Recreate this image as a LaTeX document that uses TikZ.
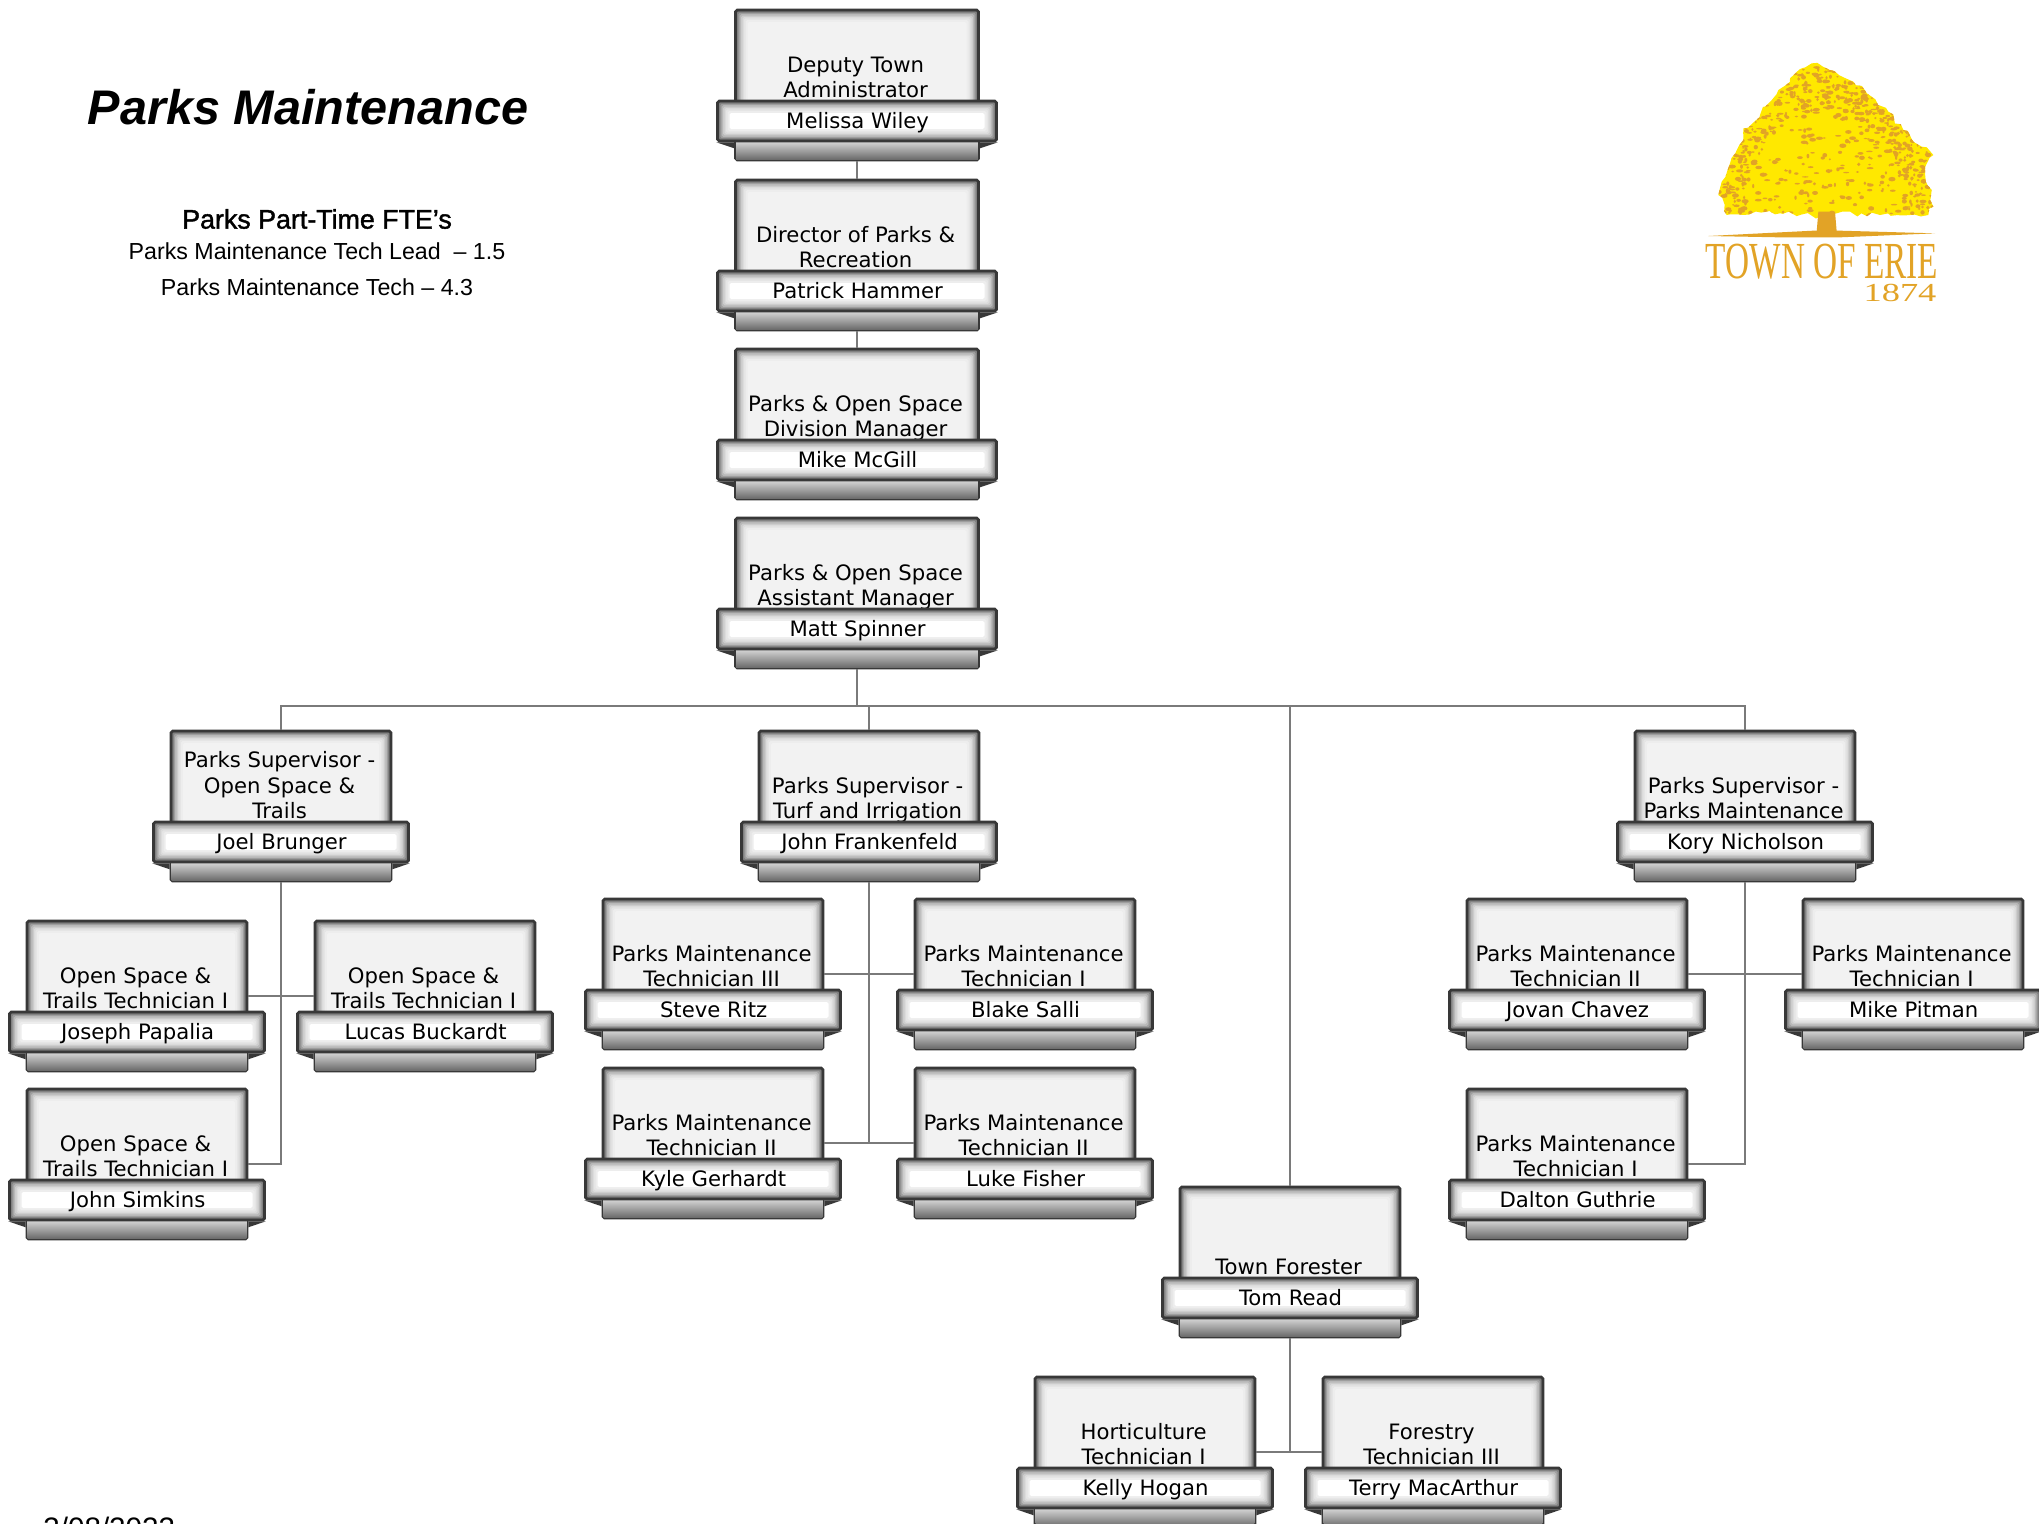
\documentclass[tikz,border=0pt]{standalone}
\usepackage{fontspec}
\setmainfont{DejaVu Sans}
\newfontfamily\headfont[FakeBold=1.5]{Liberation Sans}
\newfontfamily\plainfont{Liberation Sans}
\newfontfamily\logofont{Liberation Serif}
\usepackage{tikz}
\usetikzlibrary{decorations.pathmorphing}

\definecolor{logoorange}{RGB}{226,163,38}
\definecolor{logoyellow}{RGB}{255,232,0}

\tikzset{
    softbox/.style={draw=black!78, line width=1.3pt, rounded corners=0.8pt, path picture={
        \foreach \inset/\tone in {0/62,0.7/50,1.4/38,2.1/28,2.8/20,3.5/14,4.2/10,5/7,6/#1}{
            \fill[black!\tone] ([shift={(\inset pt,\inset pt)}]path picture bounding box.south west)
                rectangle ([shift={(-\inset pt,-\inset pt)}]path picture bounding box.north east);
        }
    }},
    regupper/.style={softbox=5, minimum width=110pt, minimum height=75pt},
    wideupper/.style={softbox=5, minimum width=121.5pt, minimum height=75pt},
    regband/.style={softbox=0, minimum width=127.5pt, minimum height=20pt},
    wideband/.style={softbox=0, minimum width=139.5pt, minimum height=20pt},
    roletext/.style={align=center, font=\fontsize{10.6}{12.9}\selectfont, inner sep=0pt, text depth=0pt, anchor=south},
    nametext/.style={font=\fontsize{10.6}{12.9}\selectfont, inner sep=0pt, anchor=base},
    link/.style={draw=black!52, line width=1.2pt},
    notch/.style={fill=black!78}
}

% #1 width style, #2 name, #3 x, #4 top, #5 role, #6 person
\newcommand{\orgbox}[6][reg]{
    \node[#1upper] (#2) at (#3,#4+75) {};
    \shade[top color=black!16, bottom color=black!58] ([shift={(1pt,1pt)}]#2.south west) rectangle ([shift={(-1pt,10pt)}]#2.south east);
    \node[roletext] (#2role) at ([xshift=-0.7pt,yshift=31.5pt]#2.south) {#5};
    \node[#1band] (#2band) at ([yshift=-18pt]#2.center) {};
    \node[nametext] (#2name) at ([xshift=0.3pt,yshift=7pt]#2band.south) {#6};
    \fill[notch] (#2band.south west) -- (#2band.south west -| #2.west) -- ++(0,6) -- cycle;
    \fill[notch] (#2band.south east) -- (#2band.south east -| #2.east) -- ++(0,6) -- cycle;
}

\begin{document}
\begin{tikzpicture}[x=0.5pt,y=-0.5pt]
    \clip (0,0) rectangle (2039,1523);
    \fill[white] (0,0) rectangle (2039,1523);

    % heading
    \node[font=\plainfont\bfseries\itshape\fontsize{24.3}{28}\selectfont] (heading) at (308,107) {Parks Maintenance};
    \node[font=\headfont\fontsize{13.4}{16}\selectfont] (fte) at (317,219) {Parks Part-Time FTE’s};
    \node[font=\plainfont\fontsize{11.6}{14}\selectfont] (ftelead) at (317,251) {Parks Maintenance Tech Lead\ \ – 1.5};
    \node[font=\plainfont\fontsize{11.6}{14}\selectfont] (ftetech) at (317,287) {Parks Maintenance Tech – 4.3};
    \node[font=\plainfont\fontsize{14.8}{16}\selectfont, anchor=base west, inner sep=0pt] (datestamp) at (43,1538) {3/08/2023};

    % chain at the top
    \orgbox[wide]{wiley}{857}{10}{Deputy Town\\Administrator}{Melissa Wiley}
    \orgbox[wide]{hammer}{857}{180}{Director of Parks \&\\Recreation}{Patrick Hammer}
    \orgbox[wide]{mcgill}{857}{349}{Parks \& Open Space\\Division Manager}{Mike McGill}
    \orgbox[wide]{spinner}{857}{518}{Parks \& Open Space\\Assistant Manager}{Matt Spinner}

    % supervisors
    \orgbox{brunger}{281}{731}{Parks Supervisor -\\Open Space \&\\Trails}{Joel Brunger}
    \orgbox{frankenfeld}{869}{731}{Parks Supervisor -\\Turf and Irrigation}{John Frankenfeld}
    \orgbox{nicholson}{1745}{731}{Parks Supervisor -\\Parks Maintenance}{Kory Nicholson}
    \orgbox{read}{1290}{1187}{Town Forester}{Tom Read}

    % open space
    \orgbox{papalia}{137}{921}{Open Space \&\\Trails Technician I}{Joseph Papalia}
    \orgbox{buckardt}{425}{921}{Open Space \&\\Trails Technician I}{Lucas Buckardt}
    \orgbox{simkins}{137}{1089}{Open Space \&\\Trails Technician I}{John Simkins}

    % turf
    \orgbox{ritz}{713}{899}{Parks Maintenance\\Technician III}{Steve Ritz}
    \orgbox{salli}{1025}{899}{Parks Maintenance\\Technician I}{Blake Salli}
    \orgbox{gerhardt}{713}{1068}{Parks Maintenance\\Technician II}{Kyle Gerhardt}
    \orgbox{fisher}{1025}{1068}{Parks Maintenance\\Technician II}{Luke Fisher}

    % parks
    \orgbox{chavez}{1577}{899}{Parks Maintenance\\Technician II}{Jovan Chavez}
    \orgbox{pitman}{1913}{899}{Parks Maintenance\\Technician I}{Mike Pitman}
    \orgbox{guthrie}{1577}{1089}{Parks Maintenance\\Technician I}{Dalton Guthrie}

    % forestry
    \orgbox{hogan}{1145}{1377}{Horticulture\\Technician I}{Kelly Hogan}
    \orgbox{macarthur}{1433}{1377}{Forestry\\Technician III}{Terry MacArthur}

    % connectors
    \coordinate (bus) at (0,706);
    \draw[link] (wiley.south) -- (hammer.north);
    \draw[link] (hammer.south) -- (mcgill.north);
    \draw[link] (spinner.south) -- (spinner.south |- bus);
    \draw[link] (brunger.north) -- (brunger.north |- bus) -- (nicholson.north |- bus) -- (nicholson.north);
    \draw[link] (frankenfeld.north) -- (frankenfeld.north |- bus);
    \draw[link] (read.north) -- (read.north |- bus);

    \draw[link] (brunger.south) |- (simkins.east);
    \draw[link] (papalia.east) -- (buckardt.west);
    \draw[link] (frankenfeld.south) -- (frankenfeld.south |- fisher.west);
    \draw[link] (ritz.east) -- (salli.west);
    \draw[link] (gerhardt.east) -- (fisher.west);
    \draw[link] (nicholson.south) |- (guthrie.east);
    \draw[link] (chavez.east) -- (pitman.west);
    \draw[link] (read.south) -- (read.south |- hogan.east);
    \draw[link] (hogan.east) -- (macarthur.west);

    % logo
    \begin{scope}[shift={(1680,40)},scale=1/3]
        \pgfmathsetseed{1874}
        \begin{scope}
            \path[clip, decorate, decoration={random steps, segment length=3pt, amplitude=1.3pt}] (395,70) -- (450,90) -- (520,125) -- (575,170) -- (625,215) -- (670,270) -- (725,320) -- (760,345) -- (735,400) -- (755,450) -- (760,500) -- (745,525) -- (600,525) -- (470,520) -- (420,530) -- (300,520) -- (140,525) -- (115,465) -- (125,425) -- (150,370) -- (190,300) -- (190,265) -- (240,225) -- (295,150) -- (330,115) -- (365,85) -- cycle;
            \fill[logoyellow] (0,0) rectangle (900,600);
            \foreach \i in {1,...,420}{
                \fill[logoorange] ({100+670*rnd},{65+465*rnd}) ellipse ({3+8*rnd} and {2+5*rnd});
            }
            % denser towards the rim of the crown
            \foreach \i in {1,...,420}{
                \pgfmathsetmacro{\spoke}{180+180*rnd}
                \pgfmathsetmacro{\reach}{0.72+0.3*rnd}
                \fill[logoorange] ({435+330*\reach*cos(\spoke)},{520+440*\reach*sin(\spoke)*0.98}) ellipse ({3+7*rnd} and {2+5*rnd});
            }
        \end{scope}
        \fill[logoorange] (410,575) -- (415,515) -- (465,515) -- (470,575) -- cycle;
        \fill[logoorange] (85,588) -- (400,572) -- (480,572) -- (765,580) -- (480,592) -- (300,592) -- cycle;
    \end{scope}
    \node[font=\logofont\fontsize{26}{27}\selectfont, text=logoorange, xscale=0.64, inner sep=0pt, anchor=base] (logotown) at (1822,278) {TOWN OF ERIE};
    \node[font=\logofont\fontsize{13}{14}\selectfont, text=logoorange, xscale=1.4, inner sep=0pt, anchor=base] (logoyear) at (1900,301) {1874};
\end{tikzpicture}
\end{document}
